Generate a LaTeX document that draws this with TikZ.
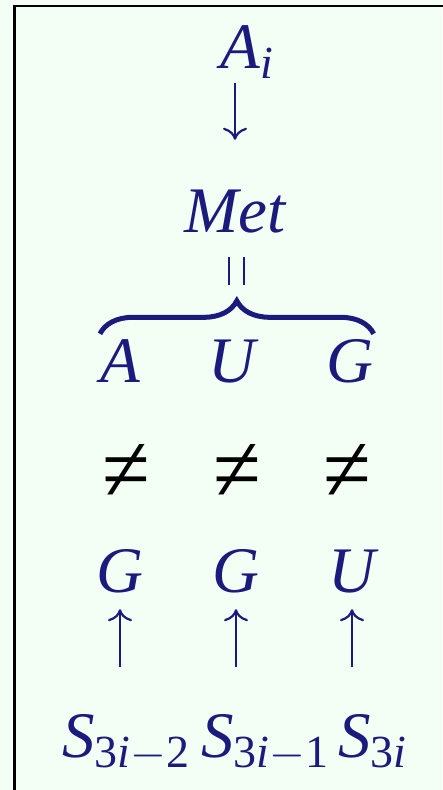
\RequirePackage{fix-cm}
\documentclass[tikz,border=0pt]{standalone}
\usepackage{fontspec}
\setmainfont{Liberation Serif}
\usetikzlibrary{arrows.meta,decorations.pathreplacing}

\definecolor{navy}{HTML}{1B1B7E}
\definecolor{mint}{HTML}{F3FFF5}

% lowered subscript
\newcommand{\lo}[1]{\raisebox{-10pt}{\fontsize{46}{50}\selectfont\upshape #1}}

\tikzset{
  letter/.style={text=navy, font=\fontsize{65}{70}\selectfont\itshape, inner sep=0pt, text height=44pt, text depth=0pt, anchor=base},
  noteq/.style={text=black, font=\fontsize{87}{90}\selectfont, inner sep=0pt, anchor=center},
  arr/.style={draw=navy, line width=2.2pt, -{Computer Modern Rightarrow[length=12pt,width=24pt]}},
}

\begin{document}
\begin{tikzpicture}[x=1pt, y=-1pt]

% page and frame
\fill[mint] (0,0) rectangle (442,790);
\useasboundingbox (0,0) rectangle (442,790);
\draw[line width=2.6pt] (14.7,800) -- (14.7,6) -- (450,6);

% top
\node[letter] (Ai) at (247,68) {A\lo{\textit{i}}};
\node[letter] (Met) at (235,232) {Met};

% codon
\node[letter] (c1) at (120,382) {A};
\node[letter] (c2) at (232,382) {U};
\node[letter] (c3) at (350,382) {G};

% not equal
\node[noteq] (ne1) at (126,473) {\scalebox{1}[1.1]{≠}};
\node[noteq] (ne2) at (237,473) {\scalebox{1}[1.1]{≠}};
\node[noteq] (ne3) at (347,473) {\scalebox{1}[1.1]{≠}};

% anticodon
\node[letter] (d1) at (120,592) {G};
\node[letter] (d2) at (236,592) {G};
\node[letter] (d3) at (352,592) {U};

% strands
\node[letter, anchor=base west] (s1) at (62,757) {S\lo{3\textit{i}$-$2}};
\node[letter, anchor=base west] (s2) at (201,757) {S\lo{3\textit{i}$-$1}};
\node[letter, anchor=base west] (s3) at (338,757) {S\lo{3\textit{i}}};

% arrows
\draw[arr, shorten <=15pt, shorten >=48pt] (Ai.south -| Met.north) -- (Met.north);
\foreach \i in {1,2,3}
  \draw[arr, shorten <=46pt, shorten >=17pt] (d\i |- s1.north) -- (d\i.south);

% equals and brace
\foreach \x in {229,244}
  \draw[navy, line width=2.4pt] (\x,257) -- (\x,285);
\draw[navy, line width=5pt, decorate, decoration={brace, amplitude=33pt}]
  ([yshift=4pt]c1.north west) -- ([yshift=4pt]c3.north east);

\end{tikzpicture}
\end{document}
